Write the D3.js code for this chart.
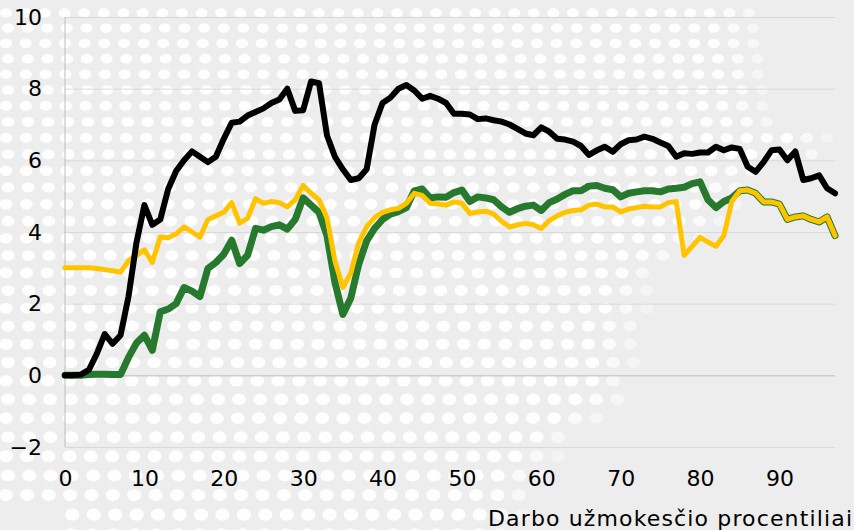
<!DOCTYPE html>
<html>
<head>
<meta charset="utf-8">
<script src="https://cdn.jsdelivr.net/npm/d3@7"></script>
<style>
  body { margin: 0; background: #ededed; }
  svg { display: block; font-family: "DejaVu Sans", Verdana, sans-serif; }
</style>
</head>
<body>
<div id="container"></div>
<script>
let w = 854;
let h = 530;

// DATA, one value per percentile 0..97
let yTicks = [-2, 0, 2, 4, 6, 8, 10];
let xTicks = [0, 10, 20, 30, 40, 50, 60, 70, 80, 90];
let xTitle = "Darbo užmokesčio procentiliai";

let blackSeries = [
  0, 0, 0.02, 0.15, 0.6, 1.15, 0.88, 1.12, 2.2, 3.7,
  4.75, 4.2, 4.35, 5.2, 5.7, 6.0, 6.25, 6.1, 5.95, 6.1,
  6.6, 7.05, 7.08, 7.25, 7.35, 7.45, 7.6, 7.7, 8.0, 7.38,
  7.4, 8.2, 8.15, 6.7, 6.1, 5.75, 5.45, 5.5, 5.75, 7.0,
  7.6, 7.75, 8.0, 8.1, 7.95, 7.72, 7.8, 7.72, 7.6, 7.3,
  7.3, 7.28, 7.15, 7.17, 7.12, 7.08, 7.0, 6.88, 6.75, 6.7,
  6.92, 6.8, 6.6, 6.58, 6.52, 6.4, 6.15, 6.28, 6.38, 6.24,
  6.45, 6.56, 6.58, 6.66, 6.6, 6.5, 6.4, 6.1, 6.2, 6.18,
  6.22, 6.22, 6.38, 6.28, 6.36, 6.32, 5.82, 5.68, 5.95, 6.28,
  6.3, 6.0, 6.25, 5.45, 5.5, 5.58, 5.22, 5.08
];

let yellowSeries = [
  3.0, 3.0, 3.0, 3.0, 2.98, 2.95, 2.92, 2.88, 3.2, 3.35,
  3.5, 3.15, 3.86, 3.84, 3.95, 4.14, 4.0, 3.86, 4.35, 4.45,
  4.55, 4.82, 4.25, 4.38, 4.93, 4.8, 4.85, 4.82, 4.7, 4.9,
  5.3, 5.08, 4.9, 4.4, 3.2, 2.45, 2.85, 3.7, 4.15, 4.4,
  4.55, 4.62, 4.66, 4.8, 5.08, 5.02, 4.8, 4.78, 4.75, 4.84,
  4.8, 4.52, 4.56, 4.58, 4.5, 4.3, 4.14, 4.2, 4.24, 4.2,
  4.1, 4.32, 4.45, 4.55, 4.6, 4.62, 4.75, 4.78, 4.7, 4.7,
  4.56, 4.64, 4.68, 4.72, 4.7, 4.7, 4.82, 4.85, 3.35, 3.6,
  3.85, 3.72, 3.6, 3.9, 4.85, 5.15, 5.17, 5.08, 4.84, 4.84,
  4.78, 4.35, 4.42, 4.45, 4.35, 4.28, 4.42, 3.9
];

let greenSeries = [
  0, 0, 0, 0.02, 0.03, 0.03, 0.02, 0.02, 0.5, 0.9,
  1.12, 0.7, 1.77, 1.85, 2.0, 2.45, 2.35, 2.2, 2.98, 3.15,
  3.38, 3.77, 3.12, 3.35, 4.1, 4.05, 4.15, 4.2, 4.08, 4.35,
  4.95, 4.75, 4.55, 3.9, 2.6, 1.7, 2.15, 3.1, 3.75, 4.1,
  4.35, 4.5, 4.57, 4.68, 5.15, 5.2, 4.95, 4.98, 4.97, 5.1,
  5.17, 4.85, 4.98, 4.95, 4.9, 4.7, 4.55, 4.65, 4.72, 4.75,
  4.6, 4.82, 4.92, 5.05, 5.15, 5.15, 5.28, 5.3, 5.22, 5.18,
  4.98, 5.08, 5.12, 5.15, 5.15, 5.12, 5.2, 5.22, 5.25, 5.35,
  5.4, 4.9, 4.68, 4.85, 4.95, 5.15, 5.17, 5.08, 4.84, 4.84,
  4.78, 4.35, 4.42, 4.45, 4.35, 4.28, 4.42, 3.9
];

let svg = d3.select("#container").append("svg")
    .attr("width", w)
    .attr("height", h)
    .style("background-color", "#ededed");

// decorative dotted background (white ellipses, fading to the right)
let edgeX = d3.scaleLinear()
    .domain([0, 120, 130, 160, 172, 200, 230, 270, 320, 400, 440, 480, 530])
    .range([765, 770, 830, 830, 760, 745, 720, 660, 645, 630, 570, 545, 520])
    .clamp(true);
let dots = svg.append("g");
let yy = 13;
let row = 0;
while (yy < h + 10) {
  let t = yy / h;
  let hs = 19.5 + 2 * t;
  let rx = 6 + 1.2 * t, ry = 4.6 + 1.6 * t;
  let lim = edgeX(yy);
  let x0 = (row % 2) * 2 + 6;
  for (let xx = x0; xx < lim; xx += hs) {
    if (yy > 505 && xx < 68) continue;
    let op = Math.max(0, Math.min(1, (lim - xx) / 45));
    dots.append("ellipse")
        .attr("cx", xx).attr("cy", yy)
        .attr("rx", rx).attr("ry", ry)
        .attr("fill", "#fff")
        .attr("opacity", 0.35 + 0.6 * op);
  }
  yy += 15 + 5 * t;
  row++;
}

let x = d3.scaleLinear().domain([0, 97]).range([65, 835]);
let y = d3.scaleLinear().domain([-2, 10]).range([447, 17]);

// gridlines
let grid = svg.append("g")
    .attr("transform", "translate(65,0)")
    .call(d3.axisLeft(y).tickValues(yTicks).tickSize(-(835 - 65)).tickFormat(""));
grid.select(".domain").remove();
grid.selectAll(".tick line")
    .attr("stroke", d => d === 0 ? "#bdbdbd" : "#d9d9d9")
    .attr("stroke-width", 1);

// vertical axis line
svg.append("line")
    .attr("x1", 65).attr("x2", 65)
    .attr("y1", y(10)).attr("y2", y(-2))
    .attr("stroke", "#bdbdbd");

// y labels
let yAxis = svg.append("g")
    .attr("transform", "translate(44,0)")
    .call(d3.axisLeft(y).tickValues(yTicks).tickSize(0).tickPadding(2));
yAxis.select(".domain").remove();
yAxis.selectAll("text")
    .attr("font-size", 22)
    .attr("font-family", "DejaVu Sans, Verdana, sans-serif")
    .attr("fill", "#000");

// x labels
let xAxis = svg.append("g")
    .attr("transform", "translate(0,470)")
    .call(d3.axisBottom(x).tickValues(xTicks).tickSize(0).tickPadding(0));
xAxis.select(".domain").remove();
xAxis.selectAll("text")
    .attr("font-size", 22)
    .attr("font-family", "DejaVu Sans, Verdana, sans-serif")
    .attr("fill", "#000");

svg.append("text")
    .attr("x", 488)
    .attr("y", 526)
    .attr("font-size", 22)
    .attr("textLength", 364)
    .attr("lengthAdjust", "spacing")
    .attr("fill", "#000")
    .text(xTitle);

// lines
let lineMaker = d3.line()
    .x((d, i) => x(i))
    .y(d => y(d));

let series = [
  { values: greenSeries, color: "#277a2d", width: 7 },
  { values: yellowSeries, color: "#ffc400", width: 5 },
  { values: blackSeries, color: "#000000", width: 6 }
];

svg.selectAll(".series").data(series).enter()
  .append("path")
    .attr("class", "series")
    .attr("d", d => lineMaker(d.values))
    .attr("fill", "none")
    .attr("stroke", d => d.color)
    .attr("stroke-width", d => d.width)
    .attr("stroke-linejoin", "round")
    .attr("stroke-linecap", "round");
</script>
</body>
</html>
